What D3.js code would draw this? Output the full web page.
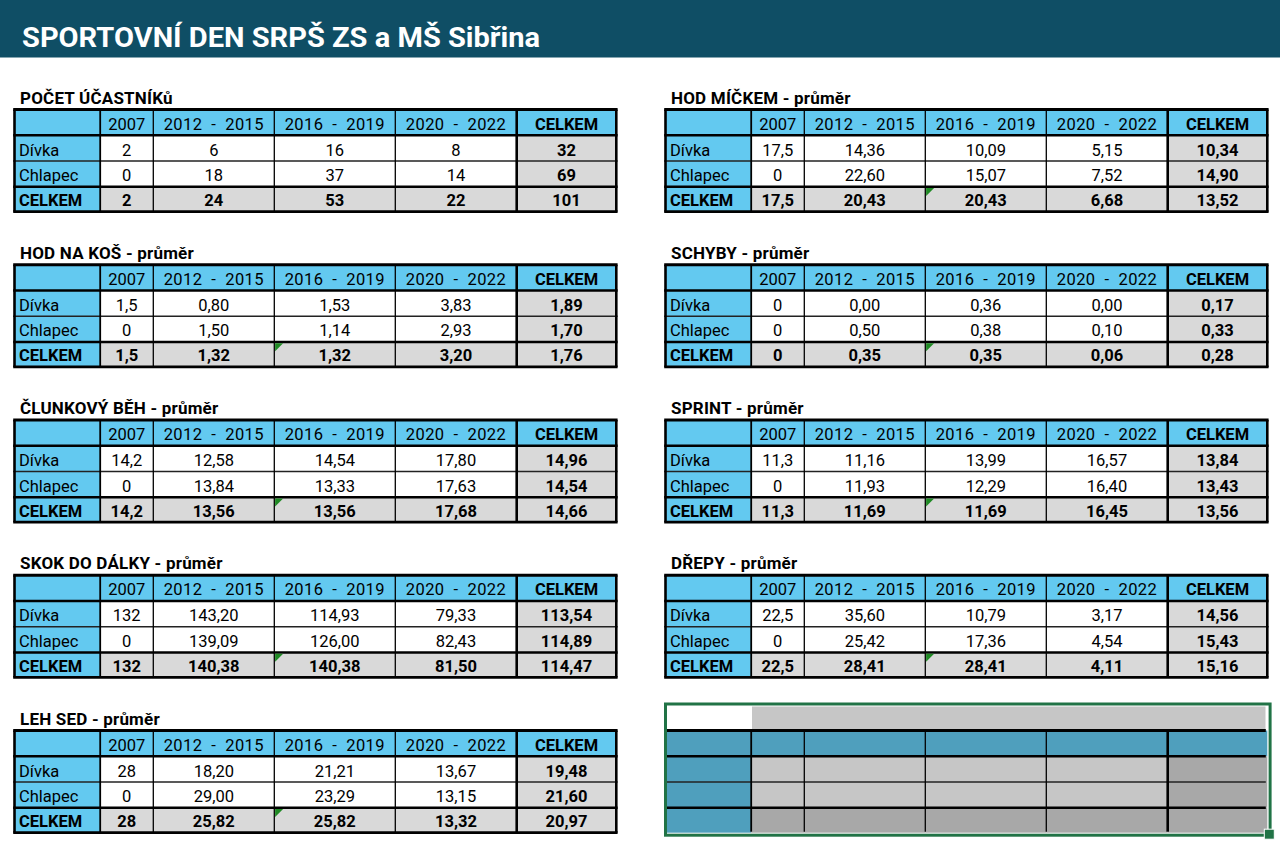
<!DOCTYPE html>
<html>
<head>
<meta charset="utf-8">
<script src="https://cdn.jsdelivr.net/npm/d3@7"></script>
<style>
  html, body { margin: 0; padding: 0; background: #ffffff; }
  svg { display: block; }
  text { font-family: Roboto, "Noto Sans", sans-serif; }
</style>
</head>
<body>
<svg id="chart" width="1280" height="846"></svg>
<script>
// ---------------- DATA ----------------
const pageTitle = "SPORTOVNÍ DEN SRPŠ ZS a MŠ Sibřina";
const columns = ["2007", "2012 - 2015", "2016 - 2019", "2020 - 2022", "CELKEM"];
const rowLabels = ["Dívka", "Chlapec", "CELKEM"];

const pocetUcastniku = [["2","6","16","8","32"],["0","18","37","14","69"],["2","24","53","22","101"]];
const hodNaKos      = [["1,5","0,80","1,53","3,83","1,89"],["0","1,50","1,14","2,93","1,70"],["1,5","1,32","1,32","3,20","1,76"]];
const clunkovyBeh   = [["14,2","12,58","14,54","17,80","14,96"],["0","13,84","13,33","17,63","14,54"],["14,2","13,56","13,56","17,68","14,66"]];
const skokDoDalky   = [["132","143,20","114,93","79,33","113,54"],["0","139,09","126,00","82,43","114,89"],["132","140,38","140,38","81,50","114,47"]];
const lehSed        = [["28","18,20","21,21","13,67","19,48"],["0","29,00","23,29","13,15","21,60"],["28","25,82","25,82","13,32","20,97"]];
const hodMickem     = [["17,5","14,36","10,09","5,15","10,34"],["0","22,60","15,07","7,52","14,90"],["17,5","20,43","20,43","6,68","13,52"]];
const schyby        = [["0","0,00","0,36","0,00","0,17"],["0","0,50","0,38","0,10","0,33"],["0","0,35","0,35","0,06","0,28"]];
const sprint        = [["11,3","11,16","13,99","16,57","13,84"],["0","11,93","12,29","16,40","13,43"],["11,3","11,69","11,69","16,45","13,56"]];
const drepy         = [["22,5","35,60","10,79","3,17","14,56"],["0","25,42","17,36","4,54","15,43"],["22,5","28,41","28,41","4,11","15,16"]];

const tables = [
  { side: "left",  slot: 0, title: "POČET ÚČASTNÍKů",        values: pocetUcastniku, flag: false },
  { side: "left",  slot: 1, title: "HOD NA KOŠ - průměr",     values: hodNaKos,      flag: true },
  { side: "left",  slot: 2, title: "ČLUNKOVÝ BĚH - průměr",   values: clunkovyBeh,   flag: true },
  { side: "left",  slot: 3, title: "SKOK DO DÁLKY - průměr",  values: skokDoDalky,   flag: true },
  { side: "left",  slot: 4, title: "LEH SED - průměr",        values: lehSed,        flag: true },
  { side: "right", slot: 0, title: "HOD MÍČKEM - průměr",     values: hodMickem,     flag: true },
  { side: "right", slot: 1, title: "SCHYBY - průměr",         values: schyby,        flag: true },
  { side: "right", slot: 2, title: "SPRINT - průměr",         values: sprint,        flag: true },
  { side: "right", slot: 3, title: "DŘEPY - průměr",          values: drepy,         flag: true }
];
// selected (empty) block at the bottom right
const selectedBlock = { side: "right", slot: 4 };

// ---------------- LAYOUT ----------------
const svg = d3.select("#chart");
const sideX = d3.scaleOrdinal().domain(["left", "right"]).range([0, 651]);
const slotY = d3.scaleLinear().domain([0, 4]).range([0, 621]);

// column edges (label col + 5 data cols)
const colEdges = [14.5, 100.2, 153.3, 274.3, 395.3, 516.7, 616.3];
// row edges (header + 3 rows)
const rowEdges = [109.5, 135.2, 161.0, 186.7, 211.7];

const BLUE = "#63c9f0", GRAY = "#d9d9d9", WHITE = "#ffffff";
const SEL = { "#63c9f0": "#4f9fbd", "#d9d9d9": "#a8a8a8", "#ffffff": "#c6c6c6" };

// header bar
svg.append("rect").attr("x", 0).attr("y", 0).attr("width", 1280).attr("height", 57.5).attr("fill", "#0f4e65");
svg.append("text").attr("x", 22).attr("y", 46.5)
  .attr("fill", "#ffffff").attr("font-weight", 700).attr("font-size", 28.5)
  .attr("textLength", 518).attr("lengthAdjust", "spacingAndGlyphs")
  .text(pageTitle);

function cellFill(r, c) {
  if (r === 0 || c === 0) return BLUE;
  if (r === 3 || c === 5) return GRAY;
  return WHITE;
}

function drawTable(g, t, selected) {
  const cells = [];
  for (let r = 0; r < 4; r++) for (let c = 0; c < 6; c++) cells.push({ r, c });
  g.selectAll("rect.cell").data(cells).join("rect")
    .attr("class", "cell")
    .attr("x", d => colEdges[d.c]).attr("y", d => rowEdges[d.r])
    .attr("width", d => colEdges[d.c + 1] - colEdges[d.c])
    .attr("height", d => rowEdges[d.r + 1] - rowEdges[d.r])
    .attr("fill", d => selected ? SEL[cellFill(d.r, d.c)] : cellFill(d.r, d.c));

  const hl = [
    { y: rowEdges[0], w: 3.0 },
    { y: rowEdges[1], w: 2.6 },
    { y: rowEdges[2], w: 1.3, col: "#222" },
    { y: rowEdges[3], w: 2.6 },
    { y: rowEdges[4], w: 2.8 }
  ].filter((d, i) => !(selected && i === 4));
  g.selectAll("line.h").data(hl).join("line").attr("class", "h")
    .attr("x1", selected ? colEdges[0] + 1.5 : colEdges[0] - 1.3)
    .attr("x2", selected ? colEdges[6] - 1.5 : colEdges[6] + 1.3)
    .attr("y1", d => d.y).attr("y2", d => d.y)
    .attr("stroke", d => d.col || "#000").attr("stroke-width", d => d.w);

  const vl = [
    { x: colEdges[0], w: 2.6, outer: true },
    { x: colEdges[1], w: 1.8 },
    { x: colEdges[2], w: 1.3 },
    { x: colEdges[3], w: 1.3 },
    { x: colEdges[4], w: 1.3 },
    { x: colEdges[5], w: 2.6 },
    { x: colEdges[6], w: 2.6, outer: true }
  ].filter(d => !(selected && d.outer));
  g.selectAll("line.v").data(vl).join("line").attr("class", "v")
    .attr("x1", d => d.x).attr("x2", d => d.x)
    .attr("y1", rowEdges[0]).attr("y2", selected ? rowEdges[4] - 1 : rowEdges[4])
    .attr("stroke", "#000").attr("stroke-width", d => d.w);
}

tables.forEach(t => {
  const g = svg.append("g").attr("transform", `translate(${sideX(t.side)},${slotY(t.slot)})`);
  drawTable(g, t, false);

  g.append("text").attr("x", colEdges[0] + 5.5).attr("y", 103.5)
    .attr("font-weight", 700).attr("font-size", 17).attr("fill", "#000")
    .attr("letter-spacing", 0.2)
    .text(t.title);

  g.selectAll("text.hdr").data(columns).join("text").attr("class", "hdr")
    .attr("x", (d, i) => (colEdges[i + 1] + colEdges[i + 2]) / 2)
    .attr("y", rowEdges[1] - 5.5)
    .attr("text-anchor", "middle").attr("font-size", 16.5)
    .attr("font-weight", (d, i) => i === 4 ? 700 : 400)
    .attr("letter-spacing", (d, i) => i === 0 || i === 4 ? 0 : 0.4)
    .style("white-space", "pre")
    .text(d => d === "CELKEM" ? d : d.replace(" - ", "  -  "));

  g.selectAll("text.lbl").data(rowLabels).join("text").attr("class", "lbl")
    .attr("x", colEdges[0] + 4.5).attr("y", (d, i) => rowEdges[i + 2] - 5.5)
    .attr("font-size", 16.5).attr("font-weight", (d, i) => i === 2 ? 700 : 400)
    .text(d => d);

  const vals = [];
  t.values.forEach((row, r) => row.forEach((v, c) => vals.push({ r, c, v })));
  g.selectAll("text.val").data(vals).join("text").attr("class", "val")
    .attr("x", d => (colEdges[d.c + 1] + colEdges[d.c + 2]) / 2)
    .attr("y", d => rowEdges[d.r + 2] - 5.5)
    .attr("text-anchor", "middle").attr("font-size", 16.5)
    .attr("font-weight", d => (d.r === 2 || d.c === 4) ? 700 : 400)
    .text(d => d.v);

  if (t.flag) {
    const x0 = colEdges[3] + 0.8, y0 = rowEdges[3] + 1.3;
    g.append("path").attr("d", `M${x0},${y0}L${x0 + 8},${y0}L${x0},${y0 + 8}Z`).attr("fill", "#1f8a24");
  }
});

{
  const t = selectedBlock;
  const g = svg.append("g").attr("transform", `translate(${sideX(t.side)},${slotY(t.slot)})`);
  const titleTop = rowEdges[0] - 24;
  g.append("rect").attr("x", colEdges[0] + 2.5).attr("y", titleTop).attr("width", colEdges[1] - colEdges[0] - 2.5)
    .attr("height", 23.5).attr("fill", "#ffffff");
  g.append("rect").attr("x", colEdges[1] + 0.8).attr("y", titleTop).attr("width", colEdges[6] - colEdges[1] - 2.6)
    .attr("height", 23.5).attr("fill", "#c6c6c6");
  drawTable(g, t, true);
  g.append("rect").attr("x", colEdges[0]).attr("y", titleTop - 2.5)
    .attr("width", colEdges[6] - colEdges[0] + 2.8).attr("height", rowEdges[4] - titleTop + 5)
    .attr("fill", "none").attr("stroke", "#217346").attr("stroke-width", 3);
  g.append("rect").attr("x", colEdges[6] - 3).attr("y", rowEdges[4] - 3.5).attr("width", 10).attr("height", 10)
    .attr("fill", "#217346").attr("stroke", "#ffffff").attr("stroke-width", 1);
}
</script>
</body>
</html>
